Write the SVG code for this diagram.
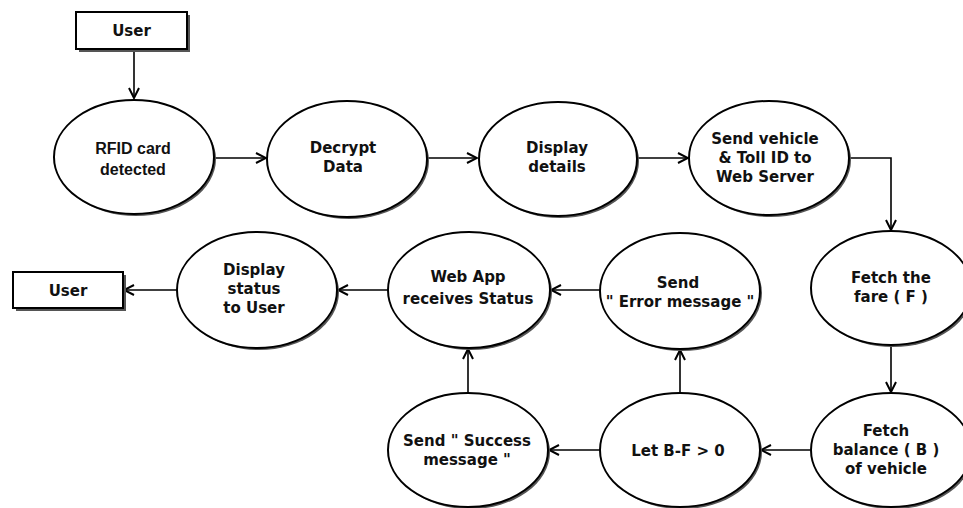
<svg xmlns="http://www.w3.org/2000/svg" width="963" height="508" viewBox="0 0 963 508">
<style>
.sh{fill:#555;stroke:none}
.nd{fill:#fff;stroke:#000;stroke-width:2}
.tx{font-family:"DejaVu Sans",Verdana,sans-serif;font-weight:bold;font-size:15px;fill:#111;text-anchor:middle}
.tx2{font-family:"Liberation Sans",Arial,sans-serif;font-weight:bold;font-size:16px;fill:#111;text-anchor:middle}
.cn{fill:none;stroke:#000;stroke-width:1.6}
</style>
<defs>
<marker id="ar" viewBox="0 0 12 12" refX="11" refY="6" markerWidth="12" markerHeight="12" markerUnits="userSpaceOnUse" orient="auto">
<path d="M1,1 L11,6 L1,11" fill="none" stroke="#000" stroke-width="2"/>
</marker>
</defs>
<rect width="963" height="508" fill="#fff"/>
<g id="connectors">
<path class="cn" marker-end="url(#ar)" d="M134,49 L134,98"/>
<path class="cn" marker-end="url(#ar)" d="M214,158 L266,158"/>
<path class="cn" marker-end="url(#ar)" d="M427,158 L477,158"/>
<path class="cn" marker-end="url(#ar)" d="M638,158 L688,158"/>
<path class="cn" marker-end="url(#ar)" d="M850,158 L891,158 L891,230"/>
<path class="cn" marker-end="url(#ar)" d="M891,346 L891,392"/>
<path class="cn" marker-end="url(#ar)" d="M810,450 L761,450"/>
<path class="cn" marker-end="url(#ar)" d="M600,450 L549,450"/>
<path class="cn" marker-end="url(#ar)" d="M680,393 L680,350"/>
<path class="cn" marker-end="url(#ar)" d="M468,393 L468,349"/>
<path class="cn" marker-end="url(#ar)" d="M600,290 L551,290"/>
<path class="cn" marker-end="url(#ar)" d="M388,290 L338,290"/>
<path class="cn" marker-end="url(#ar)" d="M177,290 L124,290"/>
</g>
<g id="user1">
<rect class="sh" x="79" y="15" width="111" height="37"/>
<rect class="nd" x="76" y="12" width="111" height="37"/>
<text class="tx" x="131.5" y="36">User</text>
</g>
<g id="rfid">
<ellipse class="sh" cx="136" cy="159" rx="80" ry="57"/>
<ellipse class="nd" cx="134" cy="157" rx="80" ry="57"/>
<text class="tx2" x="133" y="154">RFID card</text>
<text class="tx2" x="133" y="175">detected</text>
</g>
<g id="decrypt">
<ellipse class="sh" cx="349" cy="161" rx="80" ry="58"/>
<ellipse class="nd" cx="347" cy="159" rx="80" ry="58"/>
<text class="tx" x="343" y="153">Decrypt</text>
<text class="tx" x="343" y="172">Data</text>
</g>
<g id="display-details">
<ellipse class="sh" cx="560" cy="161" rx="79" ry="57"/>
<ellipse class="nd" cx="558" cy="159" rx="79" ry="57"/>
<text class="tx" x="557" y="153">Display</text>
<text class="tx" x="557" y="172">details</text>
</g>
<g id="send-vehicle">
<ellipse class="sh" cx="771" cy="160" rx="80" ry="57"/>
<ellipse class="nd" cx="769" cy="158" rx="80" ry="57"/>
<text class="tx" x="765" y="144">Send vehicle</text>
<text class="tx" x="765" y="163">&amp; Toll ID to</text>
<text class="tx" x="765" y="182">Web Server</text>
</g>
<g id="fetch-fare">
<ellipse class="sh" cx="893" cy="290" rx="80" ry="57"/>
<ellipse class="nd" cx="891" cy="288" rx="80" ry="57"/>
<text class="tx" x="891" y="283">Fetch the</text>
<text class="tx" x="891" y="302">fare ( F )</text>
</g>
<g id="fetch-balance">
<ellipse class="sh" cx="893" cy="452" rx="80" ry="57"/>
<ellipse class="nd" cx="891" cy="450" rx="80" ry="57"/>
<text class="tx" x="886" y="436">Fetch</text>
<text class="tx" x="886" y="455">balance ( B )</text>
<text class="tx" x="886" y="474">of vehicle</text>
</g>
<g id="let">
<ellipse class="sh" cx="682" cy="452" rx="80" ry="57"/>
<ellipse class="nd" cx="680" cy="450" rx="80" ry="57"/>
<text class="tx" x="678" y="456">Let B-F &gt; 0</text>
</g>
<g id="success">
<ellipse class="sh" cx="470" cy="452" rx="80" ry="57"/>
<ellipse class="nd" cx="468" cy="450" rx="80" ry="57"/>
<text class="tx" x="467" y="446">Send " Success</text>
<text class="tx" x="467" y="465">message "</text>
</g>
<g id="error">
<ellipse class="sh" cx="682" cy="293" rx="80" ry="58"/>
<ellipse class="nd" cx="680" cy="291" rx="80" ry="58"/>
<text class="tx" x="678" y="288">Send</text>
<text class="tx" x="680" y="307">" Error message "</text>
</g>
<g id="webapp">
<ellipse class="sh" cx="471" cy="292" rx="81" ry="58"/>
<ellipse class="nd" cx="469" cy="290" rx="81" ry="58"/>
<text class="tx" x="468" y="282">Web App</text>
<text class="tx" x="468" y="304">receives Status</text>
</g>
<g id="display-status">
<ellipse class="sh" cx="259" cy="292" rx="80" ry="58"/>
<ellipse class="nd" cx="257" cy="290" rx="80" ry="58"/>
<text class="tx" x="254" y="275">Display</text>
<text class="tx" x="254" y="294">status</text>
<text class="tx" x="254" y="313">to User</text>
</g>
<g id="user2">
<rect class="sh" x="16" y="275" width="110" height="36"/>
<rect class="nd" x="13" y="272" width="110" height="36"/>
<text class="tx" x="68" y="296">User</text>
</g>
</svg>
